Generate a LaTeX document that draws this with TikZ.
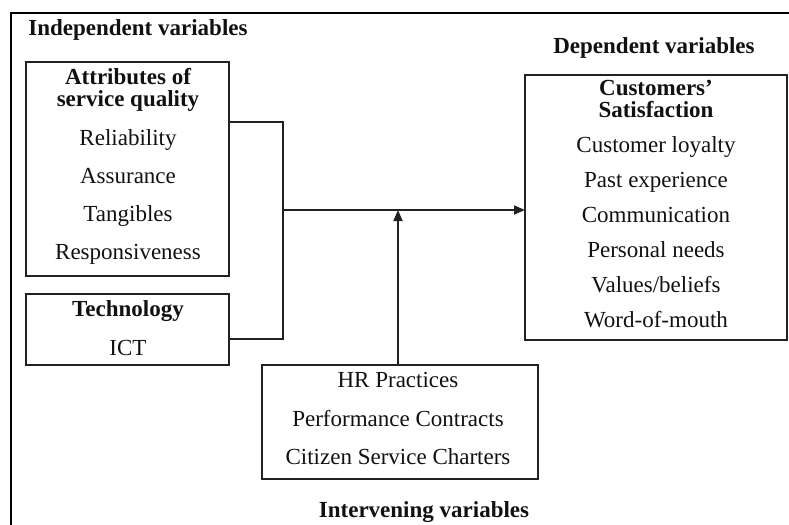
\documentclass[tikz,border=0pt]{standalone}
\usepackage{fontspec}
\setmainfont{Liberation Serif}
\usetikzlibrary{
  arrows.meta,
  positioning
}
\definecolor{fwLine}{HTML}{222222}
\definecolor{fwText}{HTML}{111111}
\tikzset{
  fwbox/.style={
    draw=fwLine, line width=1pt, inner sep=0pt, outer sep=0pt
  },
  fwtext/.style={
    font=\fontsize{11.5}{13.8}\selectfont, text=fwText, anchor=base, inner sep=0pt
  },
  fwhead/.style={fwtext, font=\fontsize{11.5}{13.8}\selectfont\bfseries},
  fwlink/.style={line width=0.9pt, fwLine},
  fwflow/.style={fwlink, -{Triangle[length=5.5pt, width=4.5pt]}},
  frameline/.style={line width=1.3pt, black}
}
\begin{document}
\begin{tikzpicture}[x=0.5pt, y=-0.5pt]
  \useasboundingbox (0,0) rectangle (789,525);
  \draw[frameline] (11,525) -- (11,13) -- (789,13);
  % boxes
  \node[fwbox, minimum width=101.5pt, minimum height=107pt] (attrs) at (127.5,169) {};
  \node[fwbox, minimum width=101.5pt, minimum height=35.5pt] (tech) at (127.5,329.5) {};
  \node[fwbox, minimum width=131pt, minimum height=132.5pt] (dep) at (656,207.5) {};
  \node[fwbox, minimum width=138pt, minimum height=57pt] (hr) at (400,422) {};
  % group titles
  \node[fwhead, anchor=base west] (indep) at (28,35) {Independent variables};
  \node[fwhead] (deplbl) at (654,53) {Dependent variables};
  \node[fwhead] (interv) at (424,517) {Intervening variables};
  % box contents
  \node[fwhead] (attrsh1) at (128,84) {Attributes of};
  \node[fwhead] (attrsh2) at (128,106) {service quality};
  \foreach \lbl [count=\i] in {Reliability, Assurance, Tangibles, Responsiveness}
    \node[fwtext] (attr\i) at (128,{107+38*\i}) {\lbl};
  \node[fwhead] (techh) at (128,316) {Technology};
  \node[fwtext] (ict) at (128,355) {ICT};
  \node[fwhead] (deph1) at (656,95) {Customers’};
  \node[fwhead] (deph2) at (656,117) {Satisfaction};
  \foreach \lbl [count=\i] in {Customer loyalty, Past experience, Communication, Personal needs, Values/beliefs, Word-of-mouth}
    \node[fwtext] (dep\i) at (656,{117+35*\i}) {\lbl};
  \foreach \lbl [count=\i] in {HR Practices, Performance Contracts, Citizen Service Charters}
    \node[fwtext] (hr\i) at (398,{349+38.5*\i}) {\lbl};
  % links
  \coordinate (jn) at (283,210);
  \draw[fwlink] (attrs.east |- 0,122) -| (jn) |- (tech.east |- 0,339);
  \draw[fwflow] (jn) -- (dep.west |- jn);
  \draw[fwflow] (hr.north -| 398,0) -- (398,210);
\end{tikzpicture}
\end{document}
